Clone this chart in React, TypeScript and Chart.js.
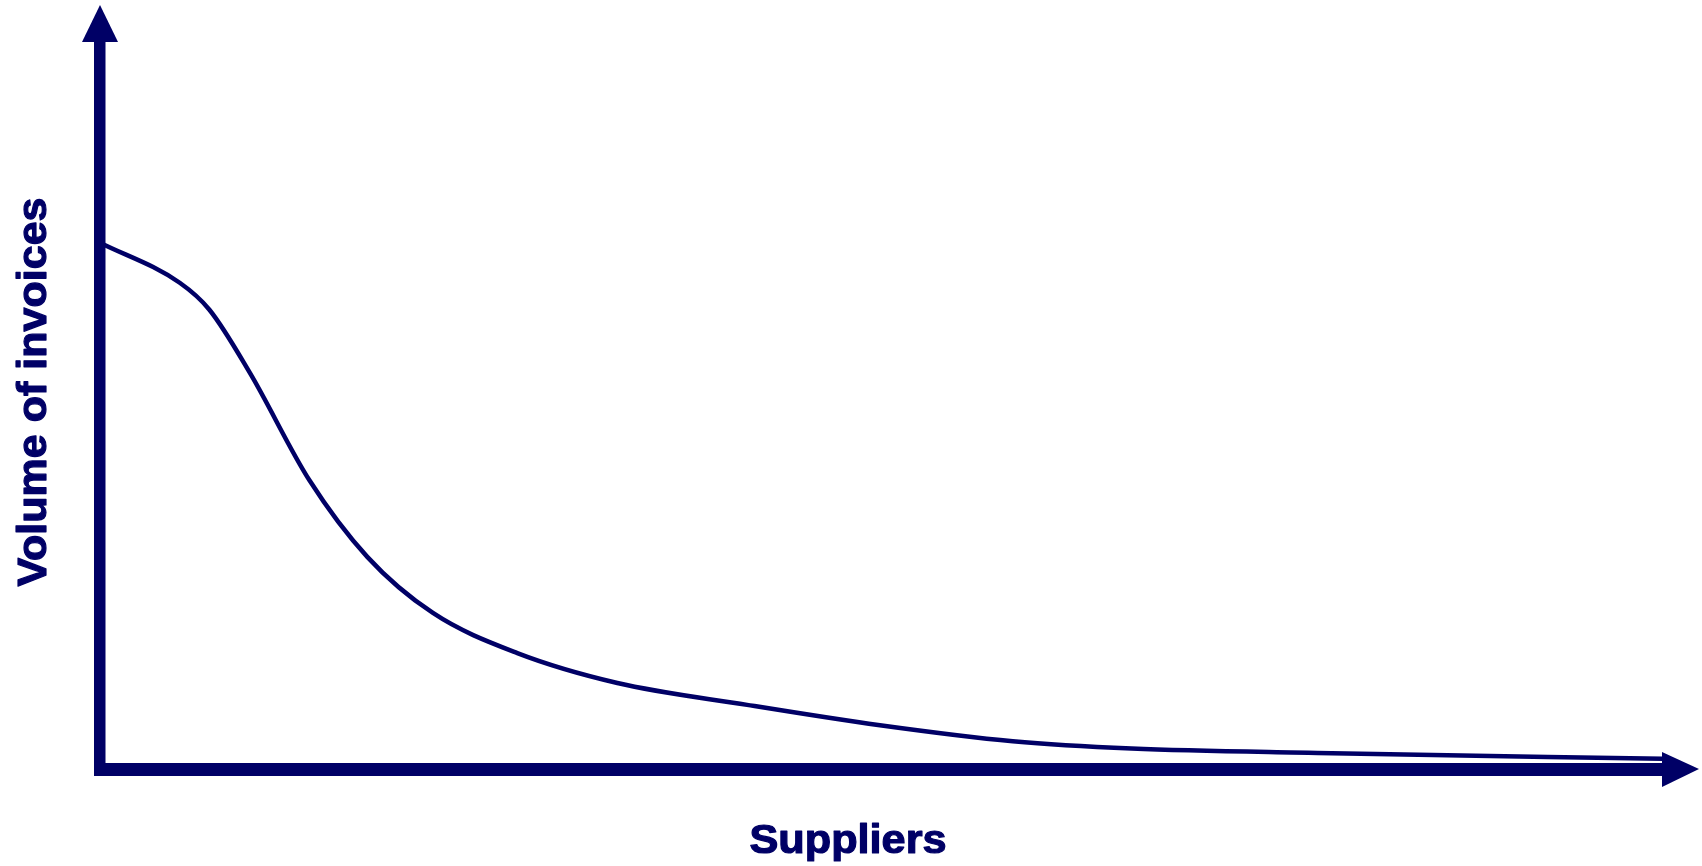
import React, { useEffect, useRef } from "react";
import { Chart, registerables } from "chart.js";

Chart.register(...registerables);

// Supplier rank position (0 = biggest supplier, 100 = long tail end)
const supplierPosition: number[] = [
  0, 5.1, 7.0, 9.6, 13.4, 17.1, 21.3, 26.7, 33.1, 41.4, 49.9, 58.4, 66.0, 77.9, 100,
];
// Relative volume of invoices per supplier
const invoiceVolume: number[] = [
  72.2, 66.7, 63.0, 54.3, 39.6, 29.1, 21.4, 15.9, 11.8, 8.8, 6.0, 3.8, 2.8, 2.2, 1.4,
];

const xAxisTitle = "Suppliers";
const yAxisTitle = "Volume of invoices";
const NAVY = "#000066";

const axesPlugin = {
  id: "arrowAxes",
  afterDatasetsDraw(chart: any) {
    const { ctx, chartArea, scales } = chart;
    const x0 = scales.x.getPixelForValue(0);
    const y0 = scales.y.getPixelForValue(0);
    ctx.save();
    ctx.fillStyle = NAVY;
    ctx.strokeStyle = NAVY;
    // vertical shaft
    ctx.fillRect(x0 - 6, chartArea.top, 11.5, y0 + 7 - chartArea.top);
    // horizontal shaft
    ctx.fillRect(x0 - 6, y0 - 6, chartArea.right - (x0 - 6), 13);
    // up arrow head
    ctx.beginPath();
    ctx.moveTo(x0 - 18, chartArea.top + 2);
    ctx.lineTo(x0 + 18, chartArea.top + 2);
    ctx.lineTo(x0, chartArea.top - 35);
    ctx.closePath();
    ctx.fill();
    // right arrow head
    ctx.beginPath();
    ctx.moveTo(chartArea.right - 1, y0 - 17);
    ctx.lineTo(chartArea.right - 1, y0 + 18);
    ctx.lineTo(chartArea.right + 36, y0);
    ctx.closePath();
    ctx.fill();

    // axis titles
    ctx.font = "bold 41px 'Liberation Sans', Arial, sans-serif";
    ctx.textAlign = "center";
    ctx.textBaseline = "alphabetic";
    ctx.lineWidth = 1.2;
    ctx.lineJoin = "round";
    ctx.save();
    ctx.translate(848, 853);
    ctx.scale(1.055, 1);
    ctx.fillText(xAxisTitle, 0, 0);
    ctx.strokeText(xAxisTitle, 0, 0);
    ctx.restore();

    ctx.save();
    ctx.translate(46, 392);
    ctx.rotate(-Math.PI / 2);
    ctx.scale(1.05, 1);
    ctx.fillText(yAxisTitle, 0, 0);
    ctx.strokeText(yAxisTitle, 0, 0);
    ctx.restore();
    ctx.restore();
  },
};

export default function App() {
  const canvasRef = useRef<HTMLCanvasElement | null>(null);

  useEffect(() => {
    if (!canvasRef.current) return;
    const data = supplierPosition.map((x, i) => ({ x, y: invoiceVolume[i] }));
    const chart = new Chart(canvasRef.current, {
      type: "line",
      data: {
        datasets: [
          {
            label: yAxisTitle,
            data,
            borderColor: NAVY,
            borderWidth: 4.5,
            pointRadius: 0,
            cubicInterpolationMode: "monotone",
            fill: false,
          },
        ],
      },
      options: {
        animation: false,
        responsive: true,
        maintainAspectRatio: false,
        layout: { padding: { left: 100, right: 39, top: 40, bottom: 97 } },
        plugins: {
          legend: { display: false },
          tooltip: { enabled: false },
        },
        scales: {
          x: { type: "linear", min: 0, max: 100, display: false },
          y: { type: "linear", min: 0, max: 100, display: false },
        },
      },
      plugins: [axesPlugin],
    });
    return () => chart.destroy();
  }, []);

  return (
    <div
      style={{
        position: "absolute",
        left: 0,
        top: 0,
        width: 1702,
        height: 866,
        background: "#ffffff",
      }}
    >
      <canvas ref={canvasRef} />
    </div>
  );
}
